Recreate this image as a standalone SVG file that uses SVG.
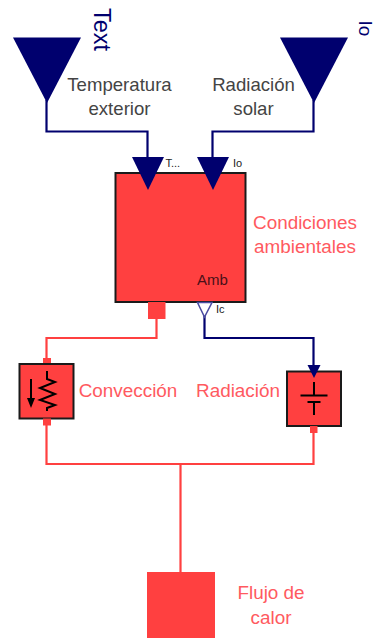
<svg xmlns="http://www.w3.org/2000/svg" width="376" height="638" viewBox="0 0 376 638">
<style>
text{font-family:"Liberation Sans",Arial,sans-serif}
.lbl{font-size:18.6px;fill:#444;text-anchor:middle}
.red{font-size:18.9px;fill:#ff5a5f;text-anchor:middle}
.sm{font-size:11px;fill:#222}
.navy{fill:#00006e}
.box{fill:#ff4040;stroke:#1a1a1a;stroke-width:2}
.port{fill:#ff4040}
.w{fill:none;stroke-width:2.2}
.ic{fill:none;stroke:#000;stroke-width:2}
</style>
<rect width="376" height="638" fill="#fff"/>
<g id="connectors">
<path class="w" stroke="#00006e" d="M46.500 100V131.500H147.500V160"/>
<path class="w" stroke="#00006e" d="M313.500 100V131.500H212.500V160"/>
<path class="w" stroke="#00006e" d="M204.500 316V338H313.500V368"/>
<path class="w" stroke="#ff4040" d="M156.500 318V338H46.500V360"/>
<path class="w" stroke="#ff4040" d="M46.500 424V464H313.500V428"/>
<path class="w" stroke="#ff4040" d="M180.500 464V573"/>
</g>
<g id="Text">
<polygon class="navy" points="13,37.500 81,37.500 47,103"/>
<text transform="translate(94,8) rotate(90)" font-size="23.500" fill="#00006e">Text</text>
</g>
<g id="Io">
<polygon class="navy" points="280,37.500 348,37.500 314,103"/>
<text transform="translate(358.500,20.500) rotate(90)" font-size="19" fill="#00006e">Io</text>
</g>
<g id="Amb">
<rect class="box" x="115.500" y="173" width="130" height="129"/>
<polygon class="navy" points="132,157 164,157 148,190"/>
<polygon class="navy" points="197,157 229,157 213,190"/>
<text class="sm" x="165.500" y="167">T...</text>
<text class="sm" x="233" y="167">Io</text>
<text x="212.500" y="285" font-size="15" fill="#4a1018" text-anchor="middle">Amb</text>
<rect class="port" x="148" y="302" width="17.500" height="17"/>
<polygon points="197.500,302.500 212,302.500 204.500,317" fill="#fff" stroke="#4a4aa0" stroke-width="1.500"/>
<text class="sm" x="216" y="313">Ic</text>
<text class="red" x="305" y="229">Condiciones</text>
<text class="red" x="305" y="253">ambientales</text>
</g>
<g id="Temperatura">
<text class="lbl" x="119.500" y="91">Temperatura</text>
<text class="lbl" x="119.500" y="115">exterior</text>
</g>
<g id="Radiacion_solar">
<text class="lbl" x="253.500" y="91">Radiación</text>
<text class="lbl" x="253.500" y="115">solar</text>
</g>
<g id="Conveccion">
<rect class="port" x="43" y="358" width="8" height="7"/>
<rect class="box" x="19.500" y="364" width="54" height="54.500"/>
<rect class="port" x="43" y="418.500" width="8" height="7"/>
<path class="ic" d="M31 379V400"/>
<path fill="#000" d="M27 398H35L31 408Z"/>
<path class="ic" d="M47 371V379L55 382L40 388L55 394L40 400L55 405L47 408V411"/>
<text class="red" x="128" y="397">Convección</text>
</g>
<g id="Radiacion">
<rect class="box" x="287" y="371.500" width="54" height="54.500"/>
<rect class="port" x="310" y="426" width="7.500" height="7"/>
<polygon class="navy" points="307.500,365 320.500,365 314,378"/>
<path class="ic" d="M314 382V395M300.500 395.500H327.500M307.500 402H320.500M314 402V415"/>
<text class="red" x="238" y="397">Radiación</text>
</g>
<g id="Flujo">
<rect class="port" x="147" y="572" width="68" height="66"/>
<text class="red" x="271" y="599">Flujo de</text>
<text class="red" x="271" y="624">calor</text>
</g>
</svg>
